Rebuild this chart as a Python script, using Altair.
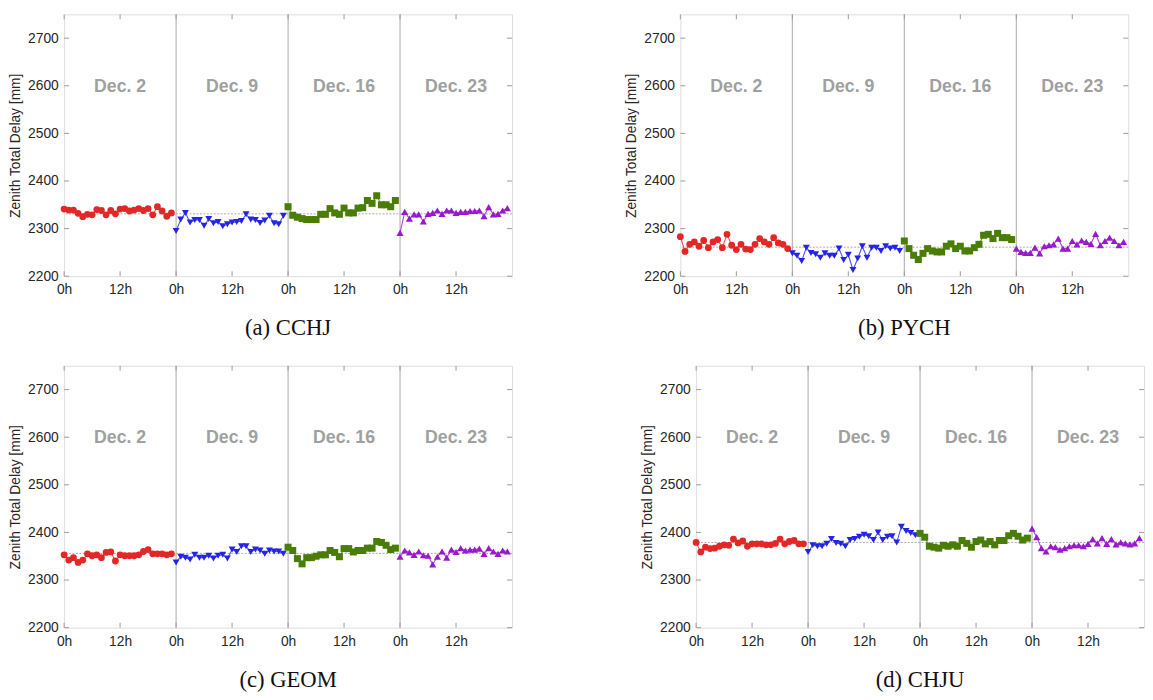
import altair as alt
import pandas as pd

days = ["Dec. 2", "Dec. 9", "Dec. 16", "Dec. 23"]
colors = ["#e32727", "#2424e6", "#4a7d06", "#9a18cc"]
shapes = ["circle", "triangle-down", "square", "triangle-up"]
x_ticks = [0, 12, 24, 36, 48, 60, 72, 84]
y_ticks = [2200, 2300, 2400, 2500, 2600, 2700]
day_bounds = [24, 48, 72]
label_hours = [12, 36, 60, 84]
label_value = 2598

cchj_dec2 = [2341, 2339, 2339, 2332, 2325, 2330, 2329, 2340, 2338, 2329, 2338, 2331, 2341, 2342, 2337, 2339, 2342, 2338, 2342, 2329, 2346, 2337, 2326, 2333]
cchj_dec9 = [2295, 2319, 2333, 2313, 2318, 2318, 2306, 2320, 2311, 2314, 2305, 2309, 2313, 2314, 2316, 2330, 2319, 2318, 2312, 2317, 2327, 2311, 2309, 2327]
cchj_dec16 = [2346, 2328, 2324, 2321, 2319, 2319, 2319, 2330, 2330, 2342, 2333, 2330, 2343, 2333, 2333, 2343, 2344, 2359, 2353, 2369, 2350, 2350, 2346, 2359]
cchj_dec23 = [2291, 2335, 2321, 2330, 2330, 2315, 2331, 2333, 2338, 2331, 2338, 2338, 2333, 2335, 2335, 2337, 2337, 2338, 2326, 2345, 2330, 2331, 2338, 2343]

pych_dec2 = [2283, 2252, 2267, 2272, 2263, 2275, 2260, 2272, 2277, 2260, 2288, 2265, 2256, 2267, 2257, 2256, 2267, 2279, 2272, 2267, 2281, 2270, 2267, 2258]
pych_dec9 = [2248, 2243, 2232, 2260, 2249, 2246, 2239, 2248, 2243, 2243, 2258, 2234, 2245, 2213, 2237, 2263, 2239, 2260, 2260, 2253, 2263, 2258, 2260, 2253]
pych_dec16 = [2274, 2258, 2244, 2235, 2248, 2258, 2253, 2251, 2251, 2263, 2268, 2258, 2263, 2253, 2253, 2260, 2267, 2286, 2288, 2279, 2290, 2281, 2281, 2277]
pych_dec23 = [2258, 2251, 2249, 2249, 2260, 2248, 2263, 2265, 2267, 2279, 2258, 2258, 2274, 2267, 2275, 2272, 2268, 2289, 2265, 2274, 2281, 2274, 2265, 2272]

geom_dec2 = [2353, 2342, 2347, 2337, 2342, 2355, 2351, 2353, 2347, 2358, 2359, 2340, 2353, 2351, 2351, 2351, 2353, 2360, 2364, 2355, 2355, 2355, 2353, 2355]
geom_dec9 = [2337, 2349, 2347, 2343, 2353, 2347, 2347, 2351, 2345, 2351, 2353, 2345, 2364, 2359, 2371, 2371, 2359, 2364, 2362, 2355, 2362, 2360, 2360, 2355]
geom_dec16 = [2369, 2362, 2345, 2334, 2347, 2347, 2350, 2353, 2353, 2362, 2358, 2349, 2366, 2366, 2359, 2362, 2362, 2367, 2367, 2381, 2379, 2373, 2364, 2367]
geom_dec23 = [2349, 2362, 2358, 2353, 2360, 2352, 2351, 2333, 2349, 2360, 2347, 2364, 2359, 2367, 2362, 2364, 2364, 2366, 2355, 2367, 2360, 2355, 2362, 2360]

chju_dec2 = [2379, 2359, 2369, 2366, 2367, 2371, 2374, 2373, 2386, 2378, 2382, 2371, 2376, 2376, 2376, 2374, 2374, 2377, 2386, 2376, 2381, 2383, 2376, 2376]
chju_dec9 = [2359, 2373, 2371, 2371, 2376, 2386, 2378, 2376, 2371, 2384, 2386, 2391, 2395, 2392, 2384, 2400, 2384, 2391, 2392, 2379, 2412, 2403, 2399, 2394]
chju_dec16 = [2398, 2390, 2371, 2369, 2367, 2373, 2371, 2374, 2371, 2383, 2377, 2369, 2381, 2384, 2376, 2381, 2374, 2383, 2383, 2393, 2398, 2392, 2384, 2388]
chju_dec23 = [2408, 2390, 2367, 2360, 2371, 2369, 2364, 2367, 2371, 2373, 2373, 2371, 2376, 2386, 2377, 2388, 2376, 2386, 2375, 2379, 2377, 2375, 2377, 2388]

captions = ["(a) CCHJ", "(b) PYCH", "(c) GEOM", "(d) CHJU"]
means = [2331, 2261, 2356, 2379]

W, H = 455, 266
FONT = "Liberation Sans"
BOX = "#9a9a9a"


def panel(series, mean, caption):
    rows = []
    for i, (d, vals) in enumerate(zip(days, series)):
        for h, v in enumerate(vals):
            rows.append({"day": d, "hour": i * 24 + h, "value": v})
    df = pd.DataFrame(rows)

    xs = alt.Scale(domain=[0, 96], nice=False, zero=False)
    ys = alt.Scale(domain=[2200, 2750], nice=False, zero=False)
    xax = alt.Axis(values=x_ticks, labelExpr="datum.value % 24 == 0 ? '0h' : '12h'",
                   ticks=False, domain=False, grid=False, labelFontSize=14, labelFont=FONT,
                   labelColor="#262626", labelPadding=7, labelFlush=False, title="")
    yax = alt.Axis(values=y_ticks, format="d", ticks=False, domain=False, grid=False,
                   labelFontSize=14, labelFont=FONT, labelColor="#262626", labelPadding=6,
                   title="Zenith Total Delay [mm]", titleFont=FONT, titleFontSize=14,
                   titleFontWeight="normal", titleColor="#262626", titlePadding=5)
    X = alt.X("hour:Q", scale=xs, axis=xax)
    Y = alt.Y("value:Q", scale=ys, axis=yax)
    cscale = alt.Scale(domain=days, range=colors)
    sscale = alt.Scale(domain=days, range=shapes)
    zscale = alt.Scale(domain=days, range=[48, 52, 36, 52])

    bounds = alt.Chart(pd.DataFrame({"hour": day_bounds})).mark_rule(
        color="#a8a8a8", strokeWidth=1).encode(x=X)
    mean_line = alt.Chart(pd.DataFrame({"value": [mean]})).mark_rule(
        color="#a8a8a8", strokeWidth=1, strokeDash=[2, 1.5]).encode(y=Y)
    lines = alt.Chart(df).mark_line(strokeWidth=1.1, opacity=0.8).encode(
        x=X, y=Y, color=alt.Color("day:N", scale=cscale, legend=None), detail="day:N")
    pts = alt.Chart(df).mark_point(filled=True, opacity=1).encode(
        x=X, y=Y,
        color=alt.Color("day:N", scale=cscale, legend=None),
        shape=alt.Shape("day:N", scale=sscale, legend=None),
        size=alt.Size("day:N", scale=zscale, legend=None))
    labels = alt.Chart(pd.DataFrame({"hour": label_hours, "value": [label_value] * 4, "t": days})).mark_text(
        font=FONT, fontSize=18, fontWeight="bold", color="#a0a0a0").encode(x=X, y=Y, text="t:N")

    ytdf = pd.DataFrame({"value": y_ticks})
    xtdf = pd.DataFrame({"hour": x_ticks})
    yt_l = alt.Chart(ytdf).mark_rule(color=BOX).encode(y=Y, x=alt.value(0), x2=alt.value(5))
    yt_r = alt.Chart(ytdf).mark_rule(color=BOX).encode(y=Y, x=alt.value(W - 5), x2=alt.value(W))
    xt_b = alt.Chart(xtdf).mark_rule(color=BOX).encode(x=X, y=alt.value(H - 5), y2=alt.value(H))
    xt_t = alt.Chart(xtdf).mark_rule(color=BOX).encode(x=X, y=alt.value(0), y2=alt.value(5))

    return alt.layer(bounds, mean_line, yt_l, yt_r, xt_b, xt_t, lines, pts, labels).properties(
        width=W, height=H,
        title=alt.TitleParams(text=caption, orient="bottom", font="Liberation Serif", fontSize=23,
                              fontWeight="normal", color="#111111", offset=21, anchor="middle",
                              frame="group"))


pa = panel([cchj_dec2, cchj_dec9, cchj_dec16, cchj_dec23], means[0], captions[0])
pb = panel([pych_dec2, pych_dec9, pych_dec16, pych_dec23], means[1], captions[1])
pc = panel([geom_dec2, geom_dec9, geom_dec16, geom_dec23], means[2], captions[2])
pd_ = panel([chju_dec2, chju_dec9, chju_dec16, chju_dec23], means[3], captions[3])

row1 = alt.hconcat(pa, pb, spacing=113)
row2 = alt.hconcat(pc, pd_, spacing=129)
chart = alt.vconcat(row1, row2, spacing=24).properties(
    padding={"left": 0, "top": 0, "right": 0, "bottom": 0}).configure_view(
    stroke=BOX, strokeWidth=1).configure(background="white")

chart.save("out.html", embed_options={"renderer": "svg", "actions": False})
